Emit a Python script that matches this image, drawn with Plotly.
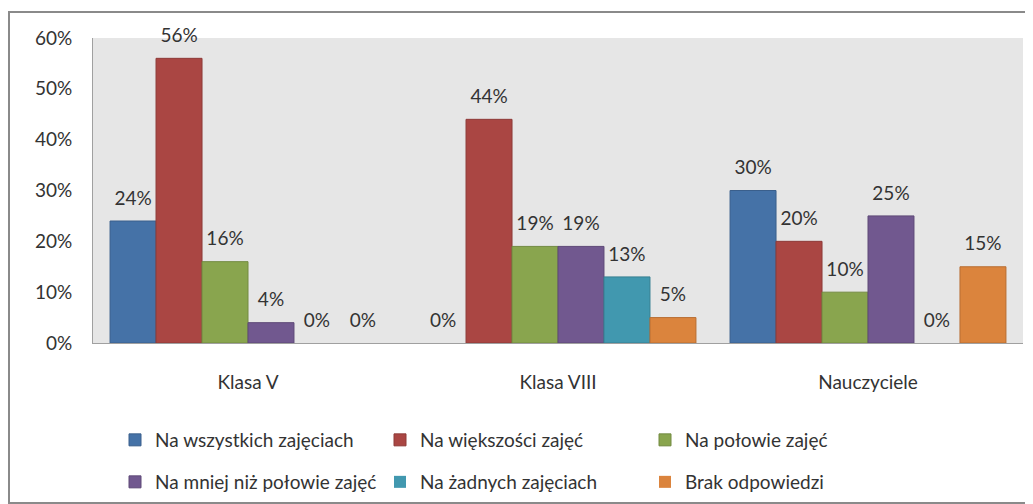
import plotly.graph_objects as go

categories = ["Klasa V", "Klasa VIII", "Nauczyciele"]
series_names = ["Na wszystkich zajęciach", "Na większości zajęć", "Na połowie zajęć",
                "Na mniej niż połowie zajęć", "Na żadnych zajęciach", "Brak odpowiedzi"]
values = [
    [24, 0, 30],
    [56, 44, 20],
    [16, 19, 10],
    [4, 19, 25],
    [0, 13, 0],
    [0, 5, 15],
]
colors = ["#4572a7", "#aa4643", "#89a54e", "#71588f", "#4198af", "#db843d"]
edges = ["#3a5f8c", "#8e3a38", "#728a41", "#5e4977", "#367f92", "#b86e33"]
yticks = [0, 10, 20, 30, 40, 50, 60]

FONT = "Lato"
FS = 19
OFF = 8  # default body margin of the html page

fig = go.Figure()
for i, (name, vals, c, e) in enumerate(zip(series_names, values, colors, edges)):
    fig.add_trace(go.Bar(
        x=categories, y=vals, name=name,
        marker=dict(color=c, line=dict(color=e, width=[1 if v > 0 else 0 for v in vals])),
        legend="legend" if i < 3 else "legend2",
        hoverinfo="skip",
    ))
for i, vals in enumerate(values):
    fig.add_trace(go.Scatter(
        x=categories, y=vals, mode="markers+text",
        text=[f"{v}%" for v in vals], textposition="top center",
        textfont=dict(family=FONT, size=FS, color="#333333"),
        marker=dict(size=17, color="rgba(0,0,0,0)"),
        showlegend=False, cliponaxis=False, hoverinfo="skip",
    ))

W, H = 1033 - OFF, 504 - OFF
L, R, T, B = 93 - OFF, 10, 38 - OFF, 504 - 343
pw, ph = W - L - R, H - T - B

def px(x):
    return (x - OFF - L) / pw

def py(y):
    return (H - B - (y - OFF)) / ph

leg_common = dict(orientation="h", xanchor="left", yanchor="middle",
                  entrywidth=220, entrywidthmode="pixels", traceorder="normal",
                  font=dict(family=FONT, size=FS, color="#333333"), itemwidth=30,
                  bgcolor="rgba(0,0,0,0)")

fig.update_layout(
    width=W, height=H,
    margin=dict(l=L, r=R, t=T, b=B, autoexpand=False),
    paper_bgcolor="white",
    plot_bgcolor="#e6e6e6",
    barmode="group", bargap=0.11, bargroupgap=0,
    scattermode="group", scattergap=0.11,
    font=dict(family=FONT, size=FS, color="#333333"),
    yaxis=dict(range=[0, 60], tickvals=yticks, ticktext=[f"{v}%" for v in yticks],
               showgrid=False, zeroline=False, showline=True, linecolor="#a0a0a0",
               linewidth=1, ticks="", ticklabelstandoff=16,
               tickfont=dict(family=FONT, size=FS, color="#333333")),
    xaxis=dict(showgrid=False, showline=True, linecolor="#a0a0a0", linewidth=1,
               ticks="", ticklabelstandoff=22,
               tickfont=dict(family=FONT, size=FS, color="#333333")),
    legend=dict(x=px(115), y=py(440), **leg_common),
    legend2=dict(x=px(115), y=py(482), **leg_common),
    shapes=[dict(type="rect", xref="paper", yref="paper",
                 x0=px(9), x1=px(1032), y0=py(503), y1=py(12),
                 line=dict(color="#8a8a8a", width=2), layer="below")],
)

fig.write_html("out.html")
